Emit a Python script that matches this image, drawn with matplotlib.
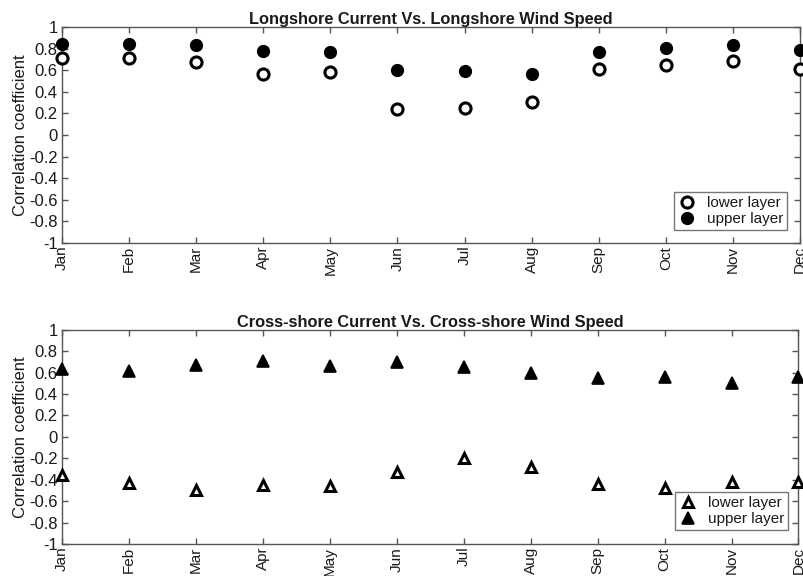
import matplotlib
matplotlib.use('agg')
import matplotlib.pyplot as plt
import numpy as np

months = ['Jan', 'Feb', 'Mar', 'Apr', 'May', 'Jun',
          'Jul', 'Aug', 'Sep', 'Oct', 'Nov', 'Dec']

# longshore current vs longshore wind speed
long_lower = [0.71, 0.71, 0.68, 0.57, 0.58, 0.24, 0.25, 0.31, 0.61, 0.65, 0.69, 0.61]
long_upper = [0.84, 0.84, 0.83, 0.78, 0.77, 0.60, 0.59, 0.57, 0.77, 0.81, 0.83, 0.79]

# cross-shore current vs cross-shore wind speed
cross_lower = [-0.36, -0.43, -0.50, -0.445, -0.46, -0.33, -0.20, -0.28, -0.44, -0.48, -0.42, -0.42]
cross_upper = [0.63, 0.615, 0.67, 0.71, 0.66, 0.70, 0.655, 0.595, 0.55, 0.555, 0.50, 0.56]

yticks = [-1, -0.8, -0.6, -0.4, -0.2, 0, 0.2, 0.4, 0.6, 0.8, 1]
ytick_labels = ['-1', '-0.8', '-0.6', '-0.4', '-0.2', '0', '0.2', '0.4', '0.6', '0.8', '1']

titles = ['Longshore Current Vs. Longshore Wind Speed',
          'Cross-shore Current Vs. Cross-shore Wind Speed']

plt.rcParams['font.family'] = ['Liberation Sans', 'DejaVu Sans']

ink = '#1a1a1a'
edge = '#555555'

fig = plt.figure(figsize=(8.04, 5.76), dpi=100)
ax_top = fig.add_axes([0.0771, 0.578, 0.918, 0.375])
ax_bot = fig.add_axes([0.0771, 0.0556, 0.916, 0.372])

x = np.arange(1, 13)


def style_axes(ax, title):
    ax.set_xlim(1, 12)
    ax.set_ylim(-1, 1)
    ax.set_xticks(x)
    ax.set_xticklabels(months, rotation=90, fontsize=11, color=ink)
    ax.set_yticks(yticks)
    ax.set_yticklabels(ytick_labels, fontsize=12, color=ink)
    ax.tick_params(direction='in', length=4, width=1, color=edge,
                   top=True, right=True, pad=3)
    ax.tick_params(axis='x', pad=2)
    for s in ax.spines.values():
        s.set_color(edge)
        s.set_linewidth(1)
    ax.set_ylabel('Correlation coefficient', fontsize=12, color=ink, labelpad=1)
    ax.set_title(title, fontsize=11.8, fontweight='bold', color=ink, pad=2)


style_axes(ax_top, titles[0])
ax_top.plot(x, long_lower, 'o', ms=8, mfc='white', mec='black', mew=2.2,
            ls='none', clip_on=False, label='lower layer', zorder=3)
ax_top.plot(x, long_upper, 'o', ms=8.5, mfc='black', mec='black', mew=1,
            ls='none', clip_on=False, label='upper layer', zorder=3)

style_axes(ax_bot, titles[1])
ax_bot.plot(x, cross_lower, '^', ms=6.5, mfc='white', mec='black', mew=2.2,
            ls='none', clip_on=False, label='lower layer', zorder=3)
ax_bot.plot(x, cross_upper, '^', ms=8, mfc='black', mec='black', mew=1.2,
            ls='none', clip_on=False, label='upper layer', zorder=3)

anchors = [(0.982, 0.06), (0.986, 0.065)]
for ax, anchor in zip((ax_top, ax_bot), anchors):
    leg = ax.legend(loc='lower right', bbox_to_anchor=anchor,
                    fontsize=11, frameon=True, fancybox=False,
                    borderpad=0.25, handletextpad=0.7, labelspacing=0.15,
                    handlelength=1.2, borderaxespad=0)
    leg.get_frame().set_edgecolor(edge)
    leg.get_frame().set_linewidth(1)
    for t in leg.get_texts():
        t.set_color(ink)

fig.savefig('out.png', dpi=100)
